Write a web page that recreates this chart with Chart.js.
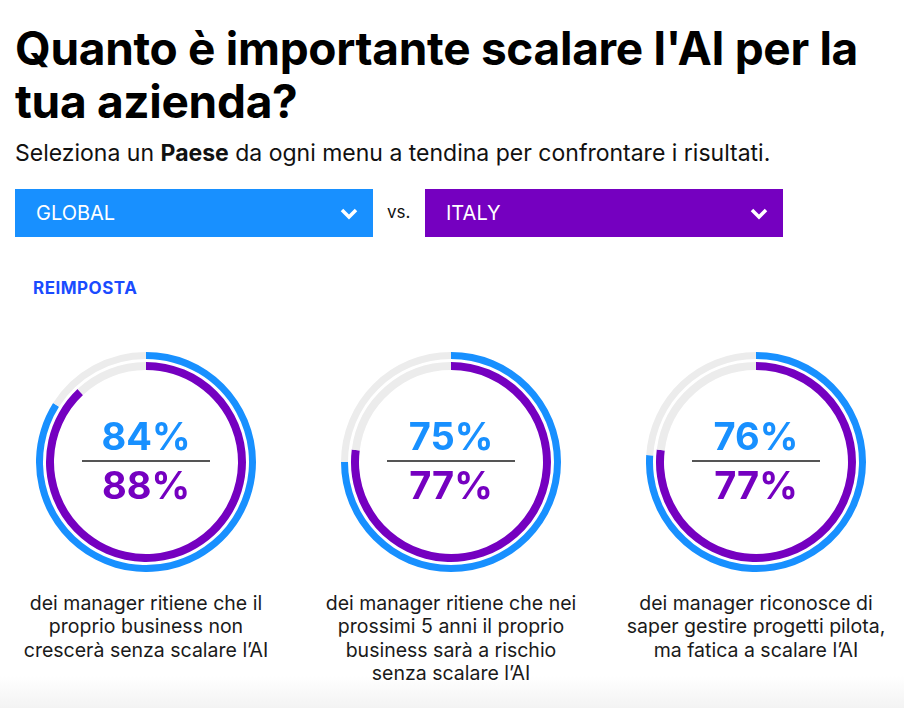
<!DOCTYPE html>
<html>
<head>
<meta charset="utf-8">
<script src="https://cdn.jsdelivr.net/npm/chart.js@4"></script>
<style>
  html, body { margin: 0; padding: 0; background: #fff; }
  body { width: 904px; height: 708px; position: relative; overflow: hidden; font-family: Inter, Roboto, sans-serif; color: #000; }
  .abs { position: absolute; }
  h1 { position: absolute; left: 15px; top: 22px; margin: 0; font-size: 46px; line-height: 53px; font-weight: 700; letter-spacing: -0.3px; width: 889px; }
  .sub { left: 15px; top: 139px; font-size: 23px; color: #111; }
  .dd { top: 189px; width: 358px; height: 48px; color: #fff; font-size: 20px; line-height: 48px; box-sizing: border-box; padding-left: 21px; }
  .dd svg { position: absolute; right: 15px; top: 19px; }
  .vs { left: 387px; top: 202px; font-size: 17px; color: #111; }
  .reset { left: 33px; top: 278px; font-size: 17px; font-weight: 700; color: #1a4bff; letter-spacing: 0.5px; }
  .ring { width: 220px; height: 220px; }
  .num { width: 220px; text-align: center; font-weight: 700; font-size: 38px; line-height: 40px; }
  .rule { height: 2px; width: 128px; background: #555; }
  .label { width: 300px; text-align: center; font-size: 19.5px; line-height: 23.3px; color: #1a1a1a; }
  .fade { left: 0; top: 676px; width: 904px; height: 32px; background: linear-gradient(#fff, #f3f3f3); }
</style>
</head>
<body>
<h1>Quanto è importante scalare l'AI per la<br>tua azienda?</h1>
<div class="abs sub">Seleziona un <b>Paese</b> da ogni menu a tendina per confrontare i risultati.</div>
<div class="abs dd" style="left:15px;background:#1890ff;">GLOBAL<svg width="18" height="12" viewBox="0 0 18 12"><path d="M2 2 L9 9 L16 2" stroke="#fff" stroke-width="3.5" fill="none"/></svg></div>
<div class="abs vs">vs.</div>
<div class="abs dd" style="left:425px;background:#7500c0;">ITALY<svg width="18" height="12" viewBox="0 0 18 12"><path d="M2 2 L9 9 L16 2" stroke="#fff" stroke-width="3.5" fill="none"/></svg></div>
<div class="abs reset">REIMPOSTA</div>
<div class="abs fade"></div>

<script>
// one ring per statement, label text split the way the page wraps it
const labelLines = [
  ["dei manager ritiene che il", "proprio business non", "crescerà senza scalare l’AI"],
  ["dei manager ritiene che nei", "prossimi 5 anni il proprio", "business sarà a rischio", "senza scalare l’AI"],
  ["dei manager riconosce di", "saper gestire progetti pilota,", "ma fatica a scalare l’AI"]
];
// % values
const globalValues = [84, 75, 76];
const italyValues = [88, 77, 77];

const BLUE = "#1890ff";
const PURPLE = "#7500c0";
const TRACK = "#ececec";

const centers = [146, 451, 756];
const centerY = 462;

labelLines.forEach((lines, i) => {
  const cx = centers[i];
  const wrap = document.createElement("div");
  wrap.className = "abs ring";
  wrap.style.left = (cx - 110) + "px";
  wrap.style.top = (centerY - 110) + "px";
  const cv = document.createElement("canvas");
  wrap.appendChild(cv);
  document.body.appendChild(wrap);

  new Chart(cv, {
    type: "doughnut",
    data: {
      labels: ["value", "rest"],
      datasets: [
        { data: [globalValues[i], 100 - globalValues[i]], backgroundColor: [BLUE, TRACK], weight: 7 },
        { data: [1], backgroundColor: ["rgba(0,0,0,0)"], weight: 3 }, // spacer between rings
        { data: [italyValues[i], 100 - italyValues[i]], backgroundColor: [PURPLE, TRACK], weight: 8 }
      ]
    },
    options: {
      responsive: true,
      maintainAspectRatio: false,
      animation: false,
      cutout: 92,
      borderWidth: 0,
      hoverOffset: 0,
      layout: { padding: 0 },
      plugins: { legend: { display: false }, tooltip: { enabled: false } },
      events: []
    }
  });

  const n1 = document.createElement("div");
  n1.className = "abs num";
  n1.style.left = (cx - 110) + "px";
  n1.style.top = (436 - 20) + "px";
  n1.style.color = BLUE;
  n1.textContent = globalValues[i] + "%";
  document.body.appendChild(n1);

  const rule = document.createElement("div");
  rule.className = "abs rule";
  rule.style.left = (cx - 64) + "px";
  rule.style.top = "460px";
  document.body.appendChild(rule);

  const n2 = document.createElement("div");
  n2.className = "abs num";
  n2.style.left = (cx - 110) + "px";
  n2.style.top = (485 - 20) + "px";
  n2.style.color = PURPLE;
  n2.textContent = italyValues[i] + "%";
  document.body.appendChild(n2);

  const lab = document.createElement("div");
  lab.className = "abs label";
  lab.style.left = (cx - 150) + "px";
  lab.style.top = "592px";
  lab.innerHTML = lines.join("<br>");
  document.body.appendChild(lab);
});
</script>
</body>
</html>
